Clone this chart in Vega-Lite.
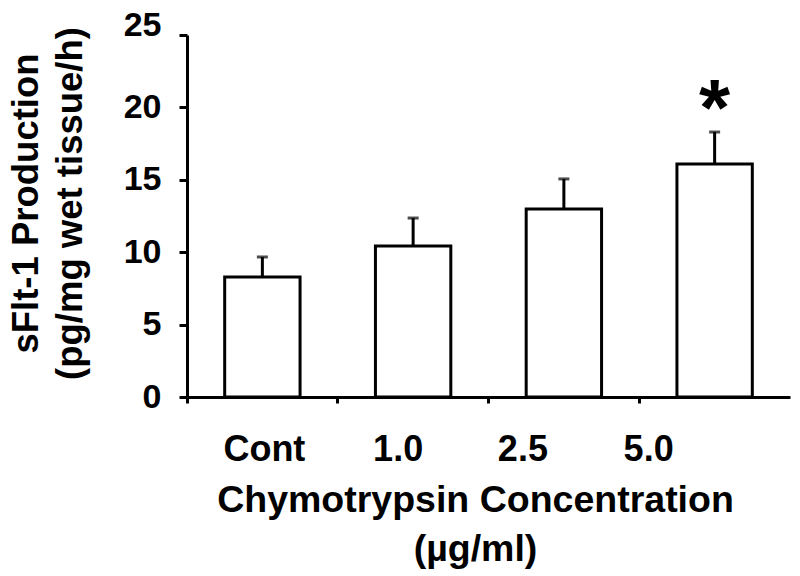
{
  "$schema": "https://vega.github.io/schema/vega-lite/v6.json",
  "width": 603,
  "height": 362,
  "autosize": "none",
  "padding": {"left": 187, "top": 35, "right": 10, "bottom": 179},
  "background": "white",
  "config": {
    "view": {"stroke": null},
    "font": "Liberation Sans",
    "axis": {
      "grid": false,
      "domainColor": "black",
      "domainWidth": 3,
      "tickColor": "black",
      "tickWidth": 3,
      "labelColor": "black",
      "titleColor": "black",
      "labelFont": "Liberation Sans",
      "titleFont": "Liberation Sans",
      "labelFontWeight": "bold",
      "titleFontWeight": "bold"
    }
  },
  "data": {
    "values": [
      {"group": "Cont", "mean": 8.29, "err": 9.67, "sig": ""},
      {"group": "1.0", "mean": 10.43, "err": 12.36, "sig": ""},
      {"group": "2.5", "mean": 12.98, "err": 15.06, "sig": ""},
      {"group": "5.0", "mean": 16.09, "err": 18.3, "sig": "*"}
    ]
  },
  "layer": [
    {
      "mark": {"type": "bar", "fill": "white", "stroke": "black", "strokeWidth": 3},
      "encoding": {
        "x": {
          "field": "group",
          "type": "ordinal",
          "sort": null,
          "scale": {"paddingInner": 0.5, "paddingOuter": 0.25},
          "axis": {
            "title": ["Chymotrypsin Concentration", "(µg/ml)"],
            "titleFontSize": 37.5,
            "titleLineHeight": 49,
            "titleBaseline": "top",
            "titleX": 288,
            "titleY": 84,
            "labelFontSize": 36,
            "labelAngle": 0,
            "labelPadding": 29,
            "tickSize": 6,
            "bandPosition": -0.5,
            "labelOffset": {
              "condition": [
                {"test": "datum.value === 'Cont'", "value": 2},
                {"test": "datum.value === '1.0'", "value": -15},
                {"test": "datum.value === '2.5'", "value": -41}
              ],
              "value": -66
            }
          }
        },
        "y": {
          "field": "mean",
          "type": "quantitative",
          "scale": {"domain": [0, 25], "nice": false},
          "axis": {
            "values": [0, 5, 10, 15, 20, 25],
            "title": ["sFlt-1 Production", "(pg/mg wet tissue/h)"],
            "titleFontSize": 36.5,
            "titleLineHeight": 44,
            "titleBaseline": "top",
            "titleAngle": -90,
            "titleX": -179,
            "titleY": 168,
            "labelFontSize": 34,
            "labelPadding": 18,
            "tickSize": 8,
            "labelBaseline": {
              "condition": {"test": "datum.value === 25", "value": "alphabetic"},
              "value": "middle"
            }
          }
        }
      }
    },
    {
      "mark": {"type": "rule", "color": "black", "strokeWidth": 3},
      "encoding": {
        "x": {"field": "group", "type": "ordinal", "sort": null},
        "y": {"field": "mean", "type": "quantitative"},
        "y2": {"field": "err"}
      }
    },
    {
      "mark": {"type": "tick", "color": "black", "thickness": 3, "size": 11, "orient": "horizontal"},
      "encoding": {
        "x": {"field": "group", "type": "ordinal", "sort": null},
        "y": {"field": "err", "type": "quantitative"}
      }
    },
    {
      "transform": [{"filter": "datum.sig !== ''"}],
      "mark": {"type": "text", "fontSize": 80, "fontWeight": "bold", "baseline": "alphabetic", "dy": 3, "color": "black", "font": "Liberation Sans"},
      "encoding": {
        "x": {"field": "group", "type": "ordinal", "sort": null},
        "y": {"field": "err", "type": "quantitative"},
        "text": {"field": "sig"}
      }
    }
  ]
}
